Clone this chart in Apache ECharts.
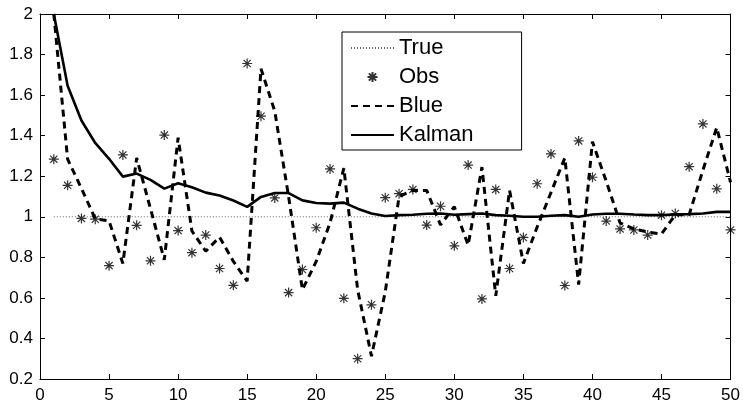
<!DOCTYPE html>
<html>
<head>
<meta charset="utf-8">
<script src="https://cdn.jsdelivr.net/npm/echarts@6/dist/echarts.min.js"></script>
<style>
html,body{margin:0;padding:0;background:#fff;}
#chart{width:743px;height:404px;}
</style>
</head>
<body>
<div id="chart"></div>
<script>
var steps = [1,2,3,4,5,6,7,8,9,10,11,12,13,14,15,16,17,18,19,20,21,22,23,24,25,26,27,28,29,30,31,32,33,34,35,36,37,38,39,40,41,42,43,44,45,46,47,48,49,50];
var trueVals = [1,1,1,1,1,1,1,1,1,1,1,1,1,1,1,1,1,1,1,1,1,1,1,1,1,1,1,1,1,1,1,1,1,1,1,1,1,1,1,1,1,1,1,1,1,1,1,1,1,1];
var obsVals = [1.284,1.155,0.992,0.988,0.759,1.305,0.958,0.783,1.403,0.932,0.823,0.910,0.745,0.662,1.756,1.496,1.093,0.626,0.740,0.946,1.236,0.598,0.300,0.566,1.094,1.114,1.135,0.959,1.052,0.857,1.255,0.595,1.135,0.745,0.898,1.163,1.310,0.661,1.374,1.195,0.979,0.940,0.935,0.910,1.008,1.016,1.247,1.458,1.138,0.935];
var blueVals = [2.0,1.284,1.14,0.99,0.98,0.77,1.29,1.04,0.788,1.39,0.93,0.83,0.90,0.78,0.683,1.73,1.52,1.10,0.64,0.78,0.97,1.24,0.64,0.313,0.63,1.10,1.13,1.13,0.96,1.05,0.86,1.245,0.61,1.13,0.77,0.95,1.12,1.29,0.666,1.37,1.175,0.97,0.94,0.925,0.915,1.01,1.01,1.23,1.44,1.17];
var kalmanVals = [2.0,1.646,1.475,1.364,1.286,1.198,1.213,1.182,1.139,1.165,1.146,1.119,1.105,1.08,1.049,1.098,1.117,1.117,1.081,1.068,1.065,1.07,1.04,1.016,1.004,1.008,1.01,1.015,1.016,1.01,1.013,1.016,1.008,1.005,1.0,1.0,1.005,1.008,1.0,1.011,1.015,1.015,1.011,1.008,1.008,1.011,1.013,1.016,1.024,1.024];
var seriesNames = ['True','Obs','Blue','Kalman'];

function pairs(vals){ return steps.map(function(x,i){ return [x, vals[i]]; }); }

var font = 'Liberation Sans, Arial, Helvetica, sans-serif';
var chart = echarts.init(document.getElementById('chart'), null, {renderer:'canvas'});
var axisCommon = {
  type:'value',
  axisLine:{show:true, onZero:false, lineStyle:{color:'#000', width:1}},
  axisTick:{show:true, inside:true, length:5, lineStyle:{color:'#000', width:1}},
  splitLine:{show:false}
};
var legendData = seriesNames.map(function(n){
  return n === 'Obs' ? {name:n} : {name:n, itemStyle:{opacity:0}};
});
var option = {
  animation:false,
  backgroundColor:'#fff',
  grid:{left:40, right:11, top:14, bottom:22, containLabel:false},
  xAxis:[
    Object.assign({}, axisCommon, {min:0, max:50, interval:5, position:'bottom',
      axisLabel:{show:true, fontSize:17, color:'#000', fontFamily:font, margin:8}}),
    Object.assign({}, axisCommon, {min:0, max:50, interval:5, position:'top',
      axisLabel:{show:false}})
  ],
  yAxis:[
    Object.assign({}, axisCommon, {min:0.2, max:2, interval:0.2, position:'left',
      axisLabel:{show:true, fontSize:17, color:'#000', fontFamily:font, margin:7}}),
    Object.assign({}, axisCommon, {min:0.2, max:2, interval:0.2, position:'right',
      axisLabel:{show:false}})
  ],
  legend:{
    orient:'vertical',
    left:342, top:32,
    data:legendData,
    itemWidth:43, itemHeight:10, itemGap:7,
    padding:[5,48,4,8],
    borderColor:'#000', borderWidth:1,
    backgroundColor:'#fff',
    textStyle:{fontSize:22, lineHeight:22, color:'#000', fontFamily:font},
    selectedMode:false
  },
  series:[
    {name:'True', type:'line', data:pairs(trueVals), symbol:'none',
      lineStyle:{color:'#666', width:1, type:[1,2]}, itemStyle:{color:'#666'}, z:1},
    {name:'Obs', type:'scatter', data:pairs(obsVals),
      symbol:'path://M0,-5L0,5M-5,0L5,0M-3.6,-3.6L3.6,3.6M-3.6,3.6L3.6,-3.6',
      symbolSize:10, symbolKeepAspect:true,
      itemStyle:{color:'#000', borderColor:'#000', borderWidth:1.2}, z:2},
    {name:'Blue', type:'line', data:pairs(blueVals), symbol:'none',
      lineStyle:{color:'#000', width:3, type:[7,5]}, itemStyle:{color:'#000'}, z:3},
    {name:'Kalman', type:'line', data:pairs(kalmanVals), symbol:'none',
      lineStyle:{color:'#000', width:2.6}, itemStyle:{color:'#000'}, z:4}
  ]
};
chart.setOption(option);
</script>
</body>
</html>
